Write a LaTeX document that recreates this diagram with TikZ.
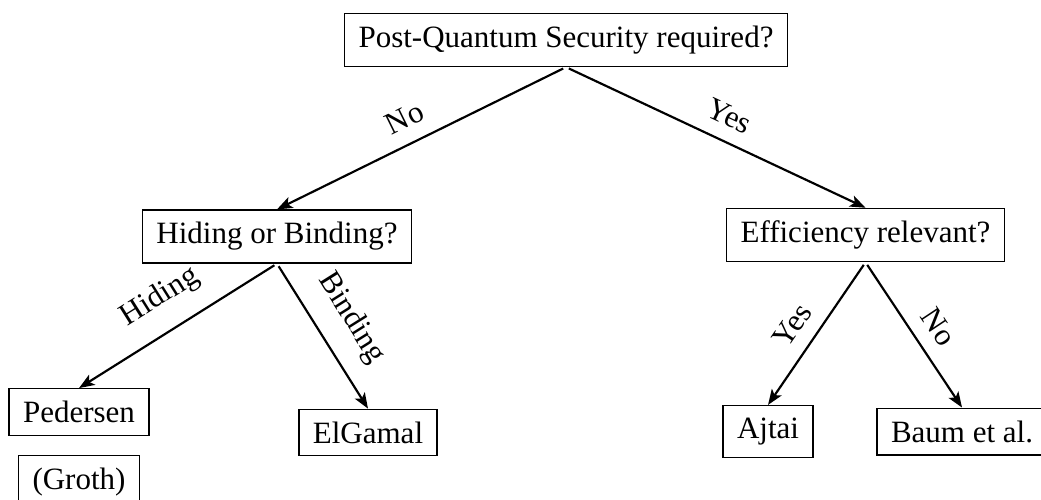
\documentclass[tikz,border=0pt]{standalone}
\usepackage{fontspec}
\setmainfont{Liberation Serif}
\usetikzlibrary{arrows.meta}
\tikzset{box/.style={draw, inner xsep=4.5pt, inner ysep=4pt},
  edge/.style={-{Stealth[length=5pt,width=3.8pt,inset=1.2pt]}, line width=0.7pt, shorten <=1pt},
  lbl/.style={above, sloped, inner sep=4.5pt}}

\begin{document}
\begin{tikzpicture}[x=0.3226pt,y=-0.3226pt]
\useasboundingbox (0,0) rectangle (1041,499);
% question nodes
\node[box] (root) at (566,40) {Post-Quantum Security required?};
\node[box] (hb) at (277,236.5) {Hiding or Binding?};
\node[box] (eff) at (865.5,235) {Efficiency relevant?};
% leaves
\node[box] (ped) at (79,412) {Pedersen};
\node[box,anchor=north] (groth) at (79,455) {(Groth)};
\node[box] (elg) at (368,432.5) {ElGamal};
\node[box] (ajt) at (768,431.5) {Ajtai};
\node[box] (baum) at (962,431.5) {Baum et al.};
% edges
\draw[edge] (root.south) -- node[lbl,pos=0.52] {No} (hb.north);
\draw[edge] (root.south) -- node[lbl,pos=0.51] {Yes} (eff.north);
\draw[edge] (hb.south) -- node[lbl,pos=0.5,inner sep=6pt] {Hiding} (ped.north);
\draw[edge] (hb.south) -- node[lbl,pos=0.5,inner sep=6pt] {Binding} (elg.north);
\draw[edge] (eff.south) -- node[lbl,pos=0.54] {Yes} (ajt.north);
\draw[edge] (eff.south) -- node[lbl,pos=0.54] {No} (baum.north);
\end{tikzpicture}
\end{document}
